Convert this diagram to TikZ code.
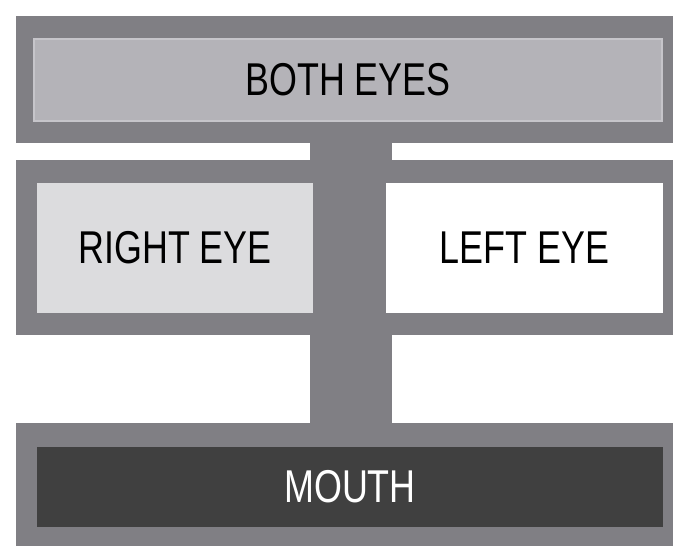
\documentclass[tikz,border=0pt]{standalone}
\usepackage{fontspec}
\setmainfont[FakeStretch=0.78]{Liberation Sans}
\usepackage{tikz}
\usetikzlibrary{calc}
\definecolor{bandgray}{HTML}{807F84}
\definecolor{bothfill}{HTML}{B4B3B8}
\definecolor{bothline}{HTML}{C6C5CA}
\definecolor{rightfill}{HTML}{DCDCDE}
\definecolor{mouthfill}{HTML}{404040}

\begin{document}
\begin{tikzpicture}[x=1pt,y=-1pt,
		band/.style={rectangle,fill=bandgray,inner sep=0pt,minimum width=657pt},
		part/.style={rectangle,inner sep=0pt,font=\fontsize{46}{46}\selectfont},
		stem/.style={bandgray,line width=82pt}]
			\fill[white] (0,0) rectangle (673,546);
			\useasboundingbox (0,0) rectangle (673,546);
			% the three bands
			\node[band,minimum height=127pt] (topband) at (344.5,79.5) {};
			\node[band,minimum height=175pt] (midband) at (344.5,247.5) {};
			\node[band,minimum height=123pt] (lowband) at (344.5,484.5) {};
			% stem joining top and bottom
			\coordinate (stemx) at (351,0);
			\draw[stem] (topband.south -| stemx) -- (lowband.north -| stemx);
			% the parts
			\node[part,fill=bothfill,draw=bothline,line width=2pt,minimum width=628pt,minimum height=82pt] (both) at (348,80) {BOTH EYES};
			\node[part,fill=rightfill,minimum width=276pt,minimum height=130pt] (right) at (175,248) {RIGHT EYE};
			\node[part,fill=white,minimum width=277pt,minimum height=130pt] (left) at (524.5,248) {LEFT EYE};
			\node[part,fill=mouthfill,text=white,minimum width=626pt,minimum height=80pt] (mouth) at (350,487) {MOUTH};
		\end{tikzpicture}
\end{document}
